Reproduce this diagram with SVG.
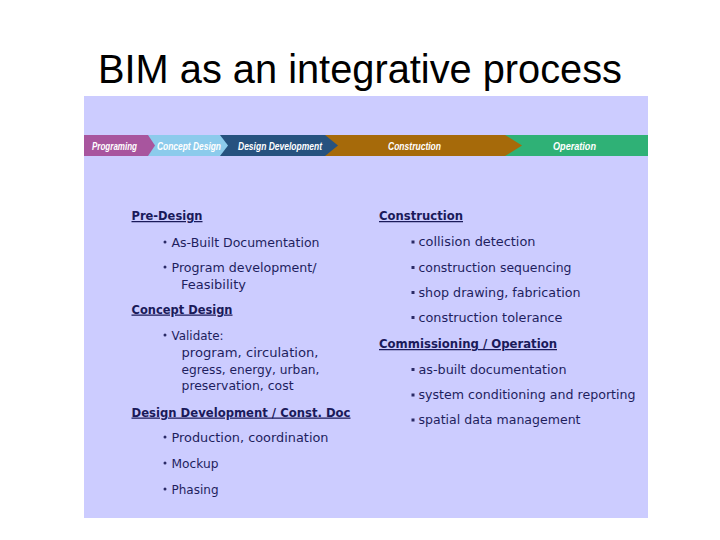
<svg xmlns="http://www.w3.org/2000/svg" width="720" height="540" viewBox="0 0 720 540">
<style>
.title{font-family:"Liberation Sans",Arial,sans-serif;font-size:40px;fill:#000}
.bar{font-family:"Liberation Sans",Arial,sans-serif;font-size:10.5px;font-weight:bold;font-style:italic;fill:#fff}
.h{font-family:"DejaVu Sans",Verdana,sans-serif;font-size:12.5px;font-weight:bold;fill:#1a1a5a;text-decoration:underline}
.t{font-family:"DejaVu Sans",Verdana,sans-serif;font-size:12.5px;fill:#1e1e5e}
.b{fill:#2a2a66}
</style>
<rect width="720" height="540" fill="#fff"/>
<text class="title" x="360" y="83" text-anchor="middle" textLength="524" lengthAdjust="spacingAndGlyphs">BIM as an integrative process</text>
<rect x="84" y="96" width="564" height="422" fill="#ccccff"/>
<g id="phase-bar">
  <rect x="500" y="135" width="148" height="21" fill="#2fb176"/>
  <polygon points="320,135 505,135 522,145.5 505,156 320,156" fill="#a66a0a"/>
  <polygon points="215,135 325,135 338,145.5 325,156 215,156" fill="#26527f"/>
  <polygon points="140,135 220,135 228,145.5 220,156 140,156" fill="#8ccbec"/>
  <polygon points="84,135 148,135 155,145.5 148,156 84,156" fill="#a8559e"/>
  <text class="bar" x="92" y="149.5" textLength="45" lengthAdjust="spacingAndGlyphs">Programing</text>
  <text class="bar" x="157" y="149.5" textLength="64" lengthAdjust="spacingAndGlyphs" fill="#eef6ff">Concept Design</text>
  <text class="bar" x="238" y="149.5" textLength="84" lengthAdjust="spacingAndGlyphs">Design Development</text>
  <text class="bar" x="388" y="149.5" textLength="53" lengthAdjust="spacingAndGlyphs">Construction</text>
  <text class="bar" x="553" y="149.5" textLength="43" lengthAdjust="spacingAndGlyphs">Operation</text>
</g>
<g id="pre-design">
  <text class="h" x="131.5" y="220" textLength="71" lengthAdjust="spacingAndGlyphs">Pre-Design</text>
  <circle class="b" cx="165" cy="242" r="1.5"/>
  <text class="t" x="171.5" y="246.5" textLength="148" lengthAdjust="spacingAndGlyphs">As-Built Documentation</text>
  <circle class="b" cx="165" cy="267" r="1.5"/>
  <text class="t" x="171.5" y="271.5" textLength="145" lengthAdjust="spacingAndGlyphs">Program development/</text>
  <text class="t" x="181" y="288.5" textLength="65" lengthAdjust="spacingAndGlyphs">Feasibility</text>
</g>
<g id="concept-design">
  <text class="h" x="131.5" y="313.5" textLength="101" lengthAdjust="spacingAndGlyphs">Concept Design</text>
  <circle class="b" cx="165" cy="335" r="1.5"/>
  <text class="t" x="171.5" y="339.5" textLength="52" lengthAdjust="spacingAndGlyphs">Validate:</text>
  <text class="t" x="181.5" y="356.5" textLength="137" lengthAdjust="spacingAndGlyphs">program, circulation,</text>
  <text class="t" x="181.5" y="373.5" textLength="138" lengthAdjust="spacingAndGlyphs">egress, energy, urban,</text>
  <text class="t" x="181.5" y="390" textLength="112" lengthAdjust="spacingAndGlyphs">preservation, cost</text>
</g>
<g id="design-development">
  <text class="h" x="131.5" y="416.5" textLength="219" lengthAdjust="spacingAndGlyphs">Design Development / Const. Doc</text>
  <circle class="b" cx="165" cy="437" r="1.5"/>
  <text class="t" x="171.5" y="441.5" textLength="157" lengthAdjust="spacingAndGlyphs">Production, coordination</text>
  <circle class="b" cx="165" cy="463" r="1.5"/>
  <text class="t" x="171.5" y="467.5" textLength="47" lengthAdjust="spacingAndGlyphs">Mockup</text>
  <circle class="b" cx="165" cy="489" r="1.5"/>
  <text class="t" x="171.5" y="493.5" textLength="47" lengthAdjust="spacingAndGlyphs">Phasing</text>
</g>
<g id="construction">
  <text class="h" x="379" y="220" textLength="84" lengthAdjust="spacingAndGlyphs">Construction</text>
  <rect class="b" x="411.5" y="240.5" width="3" height="3"/>
  <text class="t" x="418.5" y="246" textLength="117" lengthAdjust="spacingAndGlyphs">collision detection</text>
  <rect class="b" x="411.5" y="266" width="3" height="3"/>
  <text class="t" x="418.5" y="271.5" textLength="153" lengthAdjust="spacingAndGlyphs">construction sequencing</text>
  <rect class="b" x="411.5" y="291" width="3" height="3"/>
  <text class="t" x="418.5" y="296.5" textLength="162" lengthAdjust="spacingAndGlyphs">shop drawing, fabrication</text>
  <rect class="b" x="411.5" y="316" width="3" height="3"/>
  <text class="t" x="418.5" y="321.5" textLength="144" lengthAdjust="spacingAndGlyphs">construction tolerance</text>
</g>
<g id="commissioning">
  <text class="h" x="379" y="348" textLength="178" lengthAdjust="spacingAndGlyphs">Commissioning / Operation</text>
  <rect class="b" x="411.5" y="368" width="3" height="3"/>
  <text class="t" x="418.5" y="373.5" textLength="148" lengthAdjust="spacingAndGlyphs">as-built documentation</text>
  <rect class="b" x="411.5" y="393.5" width="3" height="3"/>
  <text class="t" x="418.5" y="399" textLength="217" lengthAdjust="spacingAndGlyphs">system conditioning and reporting</text>
  <rect class="b" x="411.5" y="418.5" width="3" height="3"/>
  <text class="t" x="418.5" y="424" textLength="162" lengthAdjust="spacingAndGlyphs">spatial data management</text>
</g>
</svg>
